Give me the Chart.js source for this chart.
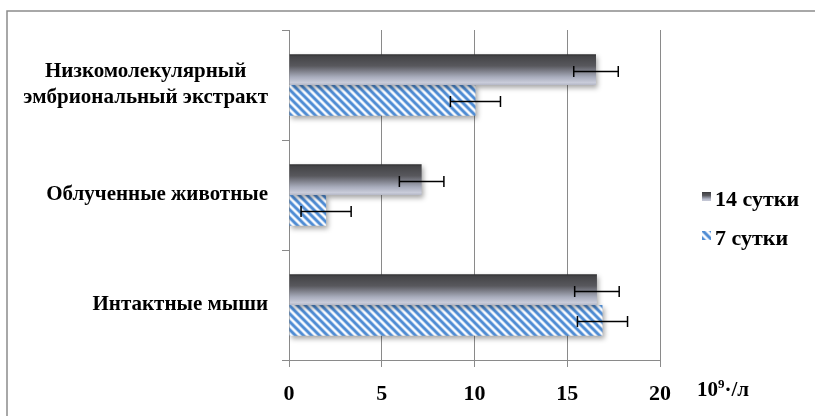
<!DOCTYPE html>
<html>
<head>
<meta charset="utf-8">
<script src="https://cdn.jsdelivr.net/npm/chart.js@4.4.0/dist/chart.umd.min.js"></script>
<style>
html, body { margin: 0; padding: 0; background: #fff; }
</style>
</head>
<body>
<canvas id="leukoChart" width="815" height="416"></canvas>
<script>
// groups top to bottom, the first one wraps onto two lines
const groups = [['Низкомолекулярный', 'эмбриональный экстракт'], 'Облученные животные', 'Интактные мыши'];
const seriesNames = ['14 сутки', '7 сутки'];
const day14 = [16.55, 7.15, 16.6];
const day7 = [10.05, 2.0, 16.9];
const day14Err = [1.2, 1.2, 1.2];
const day7Err = [1.35, 1.35, 1.35];
const xMin = 0, xMax = 20, xStep = 5;
const unitMain = '10', unitSup = '9', unitRest = '·/л';

const FONT = "'Liberation Serif', 'Times New Roman', serif";
const GRID = '#8a8a8a';
const CAT_PCT = 0.56;

const ctx = document.getElementById('leukoChart').getContext('2d');

// blue diagonal hatch for the 7-day series
function hatchPattern() {
    const c = document.createElement('canvas');
    c.width = 8; c.height = 8;
    const g = c.getContext('2d');
    g.fillStyle = '#ffffff';
    g.fillRect(0, 0, 8, 8);
    const lines = [[-4, -4, 12, 12], [-4, 4, 4, 12], [4, -4, 12, 4]];
    g.lineCap = 'square';
    g.strokeStyle = '#a7c6ec';
    g.lineWidth = 4;
    g.beginPath();
    lines.forEach(l => { g.moveTo(l[0], l[1]); g.lineTo(l[2], l[3]); });
    g.stroke();
    g.strokeStyle = '#4d8bd3';
    g.lineWidth = 2.2;
    g.beginPath();
    lines.forEach(l => { g.moveTo(l[0], l[1]); g.lineTo(l[2], l[3]); });
    g.stroke();
    return ctx.createPattern(c, 'repeat');
}
const hatch = hatchPattern();

function metalGradient(top, bottom) {
    const gr = ctx.createLinearGradient(0, top, 0, bottom);
    gr.addColorStop(0, '#2f2f31');
    gr.addColorStop(0.08, '#454548');
    gr.addColorStop(0.38, '#58585d');
    gr.addColorStop(0.74, '#a8acbc');
    gr.addColorStop(0.92, '#c9ccda');
    gr.addColorStop(1, '#b4b7c6');
    return gr;
}

// gradient for each dark bar, placed from the chart area bands
function darkFill(c) {
    const area = c.chart.chartArea;
    if (!area || c.type !== 'data') return '#555';
    const band = (area.bottom - area.top) / groups.length;
    const center = area.top + band * (c.dataIndex + 0.5);
    const thick = band * CAT_PCT / 2;
    if (!isFinite(center) || !isFinite(thick)) return '#555';
    return metalGradient(center - thick, center);
}

const outerFrame = {
    id: 'outerFrame',
    beforeDraw(chart) {
        const g = chart.ctx;
        g.save();
        g.strokeStyle = '#8c8c8c';
        g.lineWidth = 1.5;
        g.beginPath();
        g.moveTo(7, chart.height);
        g.lineTo(7, 11);
        g.lineTo(chart.width, 11);
        g.stroke();
        g.restore();
    }
};

const barShadow = {
    id: 'barShadow',
    beforeDatasetDraw(chart) {
        const g = chart.ctx;
        g.save();
        g.shadowColor = 'rgba(0,0,0,0.35)';
        g.shadowBlur = 5;
        g.shadowOffsetX = 2;
        g.shadowOffsetY = 3;
    },
    afterDatasetDraw(chart) {
        chart.ctx.restore();
    }
};

const errorBars = {
    id: 'errorBars',
    afterDatasetsDraw(chart) {
        const g = chart.ctx;
        const x = chart.scales.x;
        g.save();
        g.strokeStyle = '#000';
        g.lineWidth = 1.5;
        chart.data.datasets.forEach((ds, di) => {
            const meta = chart.getDatasetMeta(di);
            meta.data.forEach((bar, i) => {
                const v = ds.data[i], e = ds.errors[i];
                const x0 = x.getPixelForValue(v - e);
                const x1 = x.getPixelForValue(v + e);
                const yy = Math.round(bar.y) + 1.5;
                g.beginPath();
                g.moveTo(x0, yy); g.lineTo(x1, yy);
                g.moveTo(x0, yy - 5.5); g.lineTo(x0, yy + 5.5);
                g.moveTo(x1, yy - 5.5); g.lineTo(x1, yy + 5.5);
                g.stroke();
            });
        });
        g.restore();
    }
};

// category names: block right-aligned at the axis, lines centred on each other
const groupLabels = {
    id: 'groupLabels',
    afterDraw(chart) {
        const g = chart.ctx;
        const y = chart.scales.y;
        const right = 268, lh = 26;
        g.save();
        g.font = 'bold 21px ' + FONT;
        g.fillStyle = '#000';
        g.textAlign = 'center';
        g.textBaseline = 'middle';
        groups.forEach((lab, i) => {
            const lines = Array.isArray(lab) ? lab : [lab];
            const w = Math.max(...lines.map(s => g.measureText(s).width));
            const cx = right - w / 2;
            const cy = y.getPixelForValue(i);
            lines.forEach((s, k) => {
                g.fillText(s, cx, cy + (k - (lines.length - 1) / 2) * lh);
            });
        });
        g.restore();
    }
};

const sideLegend = {
    id: 'sideLegend',
    afterDraw(chart) {
        const g = chart.ctx;
        g.save();
        g.font = 'bold 22px ' + FONT;
        g.fillStyle = '#000';
        g.textBaseline = 'alphabetic';
        const rows = [206, 245];
        seriesNames.forEach((name, i) => {
            const top = rows[i] - 14;
            if (i === 0) {
                g.fillStyle = metalGradient(top, top + 9);
            } else {
                g.fillStyle = hatch;
            }
            g.fillRect(702, top, 9, 9);
            g.fillStyle = '#000';
            g.fillText(name, 715, rows[i]);
        });
        // unit next to the value axis
        g.font = 'bold 21px ' + FONT;
        g.fillText(unitMain, 697, 396);
        let ux = 697 + g.measureText(unitMain).width;
        g.font = 'bold 13px ' + FONT;
        g.fillText(unitSup, ux, 388);
        ux += g.measureText(unitSup).width;
        g.font = 'bold 21px ' + FONT;
        g.fillText(unitRest, ux, 396);
        g.restore();
    }
};

const leukoChart = new Chart(ctx, {
    type: 'bar',
    data: {
        labels: groups,
        datasets: [{
            label: seriesNames[0],
            data: day14,
            errors: day14Err,
            backgroundColor: darkFill,
            borderWidth: 0
        }, {
            label: seriesNames[1],
            data: day7,
            errors: day7Err,
            backgroundColor: hatch,
            borderWidth: 0
        }]
    },
    options: {
        indexAxis: 'y',
        responsive: false,
        animation: false,
        events: [],
        layout: { padding: { top: 30, right: 155, bottom: 0, left: 0 } },
        datasets: { bar: { barPercentage: 1, categoryPercentage: CAT_PCT } },
        plugins: {
            legend: { display: false },
            tooltip: { enabled: false }
        },
        scales: {
            x: {
                min: xMin,
                max: xMax,
                ticks: {
                    stepSize: xStep,
                    color: '#000',
                    padding: 14,
                    font: { family: FONT, size: 22, weight: 'bold' }
                },
                grid: { color: GRID, lineWidth: 1, tickLength: 7 },
                border: { color: GRID, width: 1 },
                afterFit(s) { s.height = 56; }
            },
            y: {
                ticks: { display: false },
                grid: { offset: true, drawOnChartArea: false, color: GRID, lineWidth: 1, tickLength: 7 },
                border: { color: GRID, width: 1 },
                afterFit(s) { s.width = 289; }
            }
        }
    },
    plugins: [outerFrame, barShadow, errorBars, groupLabels, sideLegend]
});
</script>
</body>
</html>
